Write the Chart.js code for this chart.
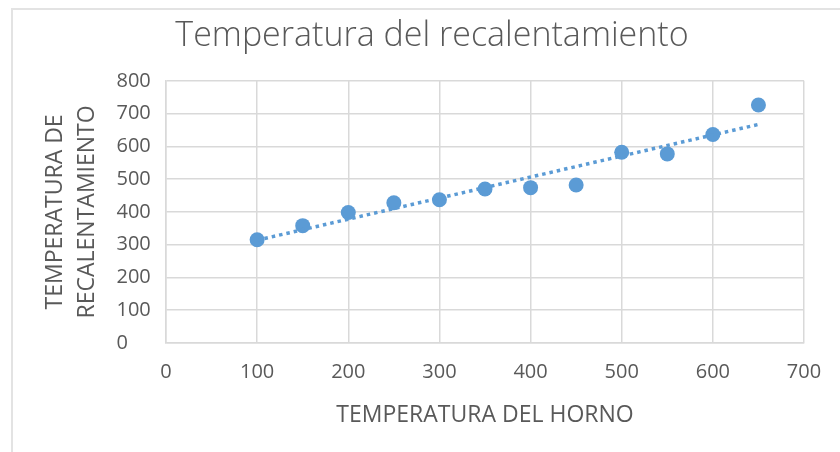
<!DOCTYPE html>
<html>
<head>
<meta charset="utf-8">
<script src="https://cdn.jsdelivr.net/npm/chart.js@4/dist/chart.umd.min.js"></script>
<style>
  html, body { margin: 0; padding: 0; background: #ffffff; overflow: hidden; width: 840px; height: 452px; }
  #frame { position: absolute; left: 11px; top: 8px; width: 900px; height: 500px; border: 2px solid #e3e3e3; box-sizing: border-box; }
  #chart { position: absolute; left: 0; top: 0; }
</style>
</head>
<body>
<div id="frame"></div>
<canvas id="chart" width="864" height="452"></canvas>
<script>
// Oven temperature (x) against reheating temperature (y)
const ovenTemps = [100, 150, 200, 250, 300, 350, 400, 450, 500, 550, 600, 650];
const reheatTemps = [315, 358, 398, 428, 437, 470, 474, 482, 582, 577, 636, 726];

const chartTitle = 'Temperatura del recalentamiento';
const xTitle = 'TEMPERATURA DEL HORNO';
const yTitle = ['TEMPERATURA DE', 'RECALENTAMIENTO'];

const xRange = [0, 700];
const yRange = [0, 800];
const tickStep = 100;

const BLUE = '#5b9bd5';
const GRID = '#d9d9d9';
const TEXT = '#595959';
const FONT = "'Open Sans', 'DejaVu Sans', sans-serif";

// Least-squares linear trend through the measured points
function linearFit(xs, ys) {
  const n = xs.length;
  const mx = xs.reduce((a, b) => a + b, 0) / n;
  const my = ys.reduce((a, b) => a + b, 0) / n;
  let sxy = 0, sxx = 0;
  for (let i = 0; i < n; i++) {
    sxy += (xs[i] - mx) * (ys[i] - my);
    sxx += (xs[i] - mx) * (xs[i] - mx);
  }
  const slope = sxy / sxx;
  return x => my + slope * (x - mx);
}
const trend = linearFit(ovenTemps, reheatTemps);
const xFirst = Math.min(...ovenTemps);
const xLast = Math.max(...ovenTemps);

const points = ovenTemps.map((x, i) => ({ x, y: reheatTemps[i] }));
const trendPoints = [xFirst, xLast].map(x => ({ x, y: trend(x) }));

// Empty axis used only to hold space (left: the y title, right: margin)
const spacerAxis = (position, width, extra) => Object.assign({
  type: 'linear',
  position,
  display: true,
  grid: { display: false, drawTicks: false },
  ticks: { display: false },
  border: { display: false },
  afterFit: s => { s.width = width; }
}, extra);

new Chart(document.getElementById('chart'), {
  type: 'scatter',
  data: {
    datasets: [
      {
        label: 'Temperatura de recalentamiento',
        data: points,
        backgroundColor: BLUE,
        borderColor: BLUE,
        borderWidth: 0,
        pointRadius: 7.5,
        pointHoverRadius: 7.5,
        order: 1
      },
      {
        type: 'line',
        label: 'Lineal',
        data: trendPoints,
        borderColor: BLUE,
        borderWidth: 3.5,
        borderDash: [3.5, 4],
        borderCapStyle: 'butt',
        pointRadius: 0,
        fill: false,
        order: 0
      }
    ]
  },
  options: {
    responsive: false,
    animation: false,
    layout: { padding: 0 },
    plugins: {
      legend: { display: false },
      tooltip: { enabled: false },
      title: {
        display: true,
        text: chartTitle,
        color: TEXT,
        font: { family: FONT, size: 34, weight: '300', lineHeight: 1.2 },
        padding: { top: 16, bottom: 24 }
      }
    },
    scales: {
      x: {
        type: 'linear',
        min: xRange[0],
        max: xRange[1],
        ticks: {
          stepSize: tickStep,
          color: TEXT,
          padding: 17,
          font: { family: FONT, size: 20 }
        },
        grid: { color: GRID, lineWidth: 1.5, drawTicks: false },
        border: { color: GRID, width: 1.5 },
        title: {
          display: true,
          text: xTitle,
          color: TEXT,
          font: { family: FONT, size: 23, lineHeight: 1.2 },
          padding: { top: 0, bottom: 23 }
        },
        afterFit: s => { s.height = 109; }
      },
      y: {
        type: 'linear',
        min: yRange[0],
        max: yRange[1],
        weight: 0,
        ticks: {
          stepSize: tickStep,
          color: TEXT,
          crossAlign: 'far',
          font: { family: FONT, size: 20 }
        },
        grid: { color: GRID, lineWidth: 1.5, drawTicks: false },
        border: { color: GRID, width: 1.5 },
        afterFit: s => { s.width = 49.5; }
      },
      yTitleAxis: spacerAxis('left', 116.5, {
        weight: 1,
        title: {
          display: true,
          text: yTitle,
          color: TEXT,
          font: { family: FONT, size: 23, lineHeight: 32 / 23 },
          padding: { top: 39, bottom: 0 }
        }
      }),
      spacer: spacerAxis('right', 60)
    }
  }
});
</script>
</body>
</html>
